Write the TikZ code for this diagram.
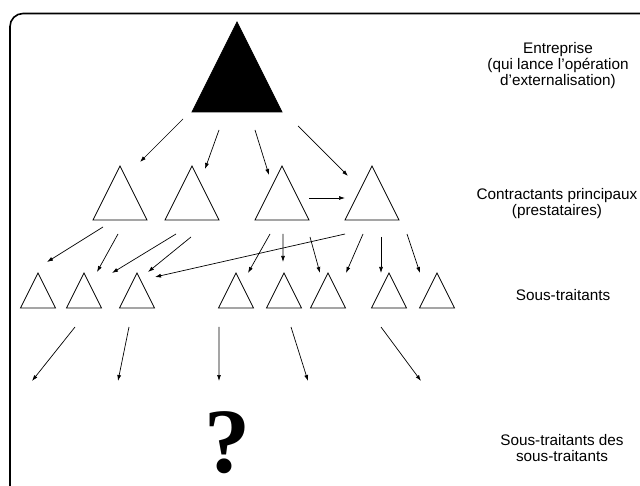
\documentclass[tikz,border=0pt]{standalone}
\usepackage{fontspec}
\newfontfamily\arialfont{Liberation Sans}
\newfontfamily\timesfont{Liberation Serif}
\usetikzlibrary{shapes.geometric,arrows.meta}
\tikzset{
    tri/.style={isosceles triangle, isosceles triangle stretches, shape border rotate=90,
        draw, line width=0.8pt, inner sep=0pt, outer sep=0pt, anchor=apex,
        minimum width=#1, minimum height=#1},
    arr/.style={-{Latex[length=6pt,width=4pt]}, line width=0.7pt},
    lbl/.style={align=center, font=\arialfont\fontsize{15.3}{16}\selectfont},
}
\begin{document}
\begin{tikzpicture}[x=10pt, y=-10pt]

    \useasboundingbox (0, 0) rectangle (64, 48.6);

    % Border frame
    \draw[line width=1.6pt, rounded corners=13pt] (1.0, 1.35) rectangle (66, 52);

    %% Triangles

    % Entreprise
    \node[tri=90pt, fill=black] (ent) at (23.7, 2.2) {};

    % Contractants principaux
    \node[tri=54pt] (cp1) at (12.0, 16.6) {};
    \node[tri=54pt] (cp2) at (19.2, 16.6) {};
    \node[tri=54pt] (cp3) at (28.2, 16.6) {};
    \node[tri=54pt] (cp4) at (37.2, 16.6) {};

    % Sous-traitants
    \node[tri=35pt] (st1) at (3.8, 27.3) {};
    \node[tri=35pt] (st2) at (8.4, 27.3) {};
    \node[tri=35pt] (st3) at (13.7, 27.3) {};
    \node[tri=35pt] (st4) at (23.6, 27.3) {};
    \node[tri=35pt] (st5) at (28.4, 27.3) {};
    \node[tri=35pt] (st6) at (32.8, 27.3) {};
    \node[tri=35pt] (st7) at (38.9, 27.3) {};
    \node[tri=35pt] (st8) at (43.7, 27.3) {};

    % Sous-traitants des sous-traitants
    \coordinate (sst1) at (3.2, 38.1);
    \coordinate (sst2) at (11.8, 38.1);
    \coordinate (sst3) at (21.9, 38.1);
    \coordinate (sst4) at (30.8, 38.1);
    \coordinate (sst5) at (42.1, 38.1);
    \node[font=\timesfont\bfseries\fontsize{92}{92}\selectfont, inner sep=0pt] (inc) at (22.7, 44.3) {?};

    %% Arrows

    % Entreprise -> contractants
    \draw[arr] ([shift={(-5.4, 9.7)}]ent.apex) -- ([shift={(2.0, -0.4)}]cp1.apex);
    \draw[arr] ([shift={(-1.8, 10.8)}]ent.apex) -- ([shift={(1.3, 0.3)}]cp2.apex);
    \draw[arr] ([shift={(1.8, 10.8)}]ent.apex) -- ([shift={(-1.3, 0.9)}]cp3.apex);
    \draw[arr] ([shift={(6.1, 10.4)}]ent.apex) -- ([shift={(-2.4, 1.0)}]cp4.apex);
    \draw[arr] ([shift={(2.7, 3.2)}]cp3.apex) -- ([shift={(-2.7, 3.2)}]cp4.apex);

    % Contractants -> sous-traitants
    \draw[arr] ([shift={(-1.7, 6.1)}]cp1.apex) -- ([shift={(0.9, -1.1)}]st1.apex);
    \draw[arr] ([shift={(-0.2, 6.8)}]cp1.apex) -- ([shift={(1.3, -0.1)}]st2.apex);
    \draw[arr] ([shift={(-1.6, 6.8)}]cp2.apex) -- ([shift={(2.8, 0)}]st2.apex);
    \draw[arr] ([shift={(-0.1, 7.1)}]cp2.apex) -- ([shift={(1.1, -0.1)}]st3.apex);
    \draw[arr] ([shift={(-2.7, 6.8)}]cp4.apex) -- ([shift={(1.8, 0.4)}]st3.apex);
    \draw[arr] ([shift={(-1.2, 6.8)}]cp3.apex) -- ([shift={(1.2, 0)}]st4.apex);
    \draw[arr] ([shift={(0.1, 6.8)}]cp3.apex) -- ([shift={(-0.1, -1.1)}]st5.apex);
    \draw[arr] ([shift={(2.8, 7.1)}]cp3.apex) -- ([shift={(-0.8, 0)}]st6.apex);
    \draw[arr] ([shift={(-0.9, 6.8)}]cp4.apex) -- ([shift={(1.8, 0)}]st6.apex);
    \draw[arr] ([shift={(0.9, 7.1)}]cp4.apex) -- ([shift={(-0.8, 0)}]st7.apex);
    \draw[arr] ([shift={(3.5, 6.8)}]cp4.apex) -- ([shift={(-1.7, 0)}]st8.apex);

    % Sous-traitants -> leurs sous-traitants
    \draw[arr] ([shift={(-0.9, 5.4)}]st2.apex) -- (sst1);
    \draw[arr] ([shift={(-0.8, 5.4)}]st3.apex) -- (sst2);
    \draw[arr] ([shift={(-1.7, 5.4)}]st4.apex) -- (sst3);
    \draw[arr] ([shift={(0.7, 5.4)}]st5.apex) -- (sst4);
    \draw[arr] ([shift={(-0.8, 5.4)}]st7.apex) -- (sst5);

    %% Labels
    \node[lbl] (lent) at (55.8, 6.6) {Entreprise\\(qui lance l’opération\\d’externalisation)};
    \node[lbl] (lcp) at (55.7, 20.4) {Contractants principaux\\(prestataires)};
    \node[lbl] (lst) at (56.3, 29.5) {Sous-traitants};
    \node[lbl] (lsst) at (56.2, 44.8) {Sous-traitants des\\sous-traitants};

\end{tikzpicture}
\end{document}
